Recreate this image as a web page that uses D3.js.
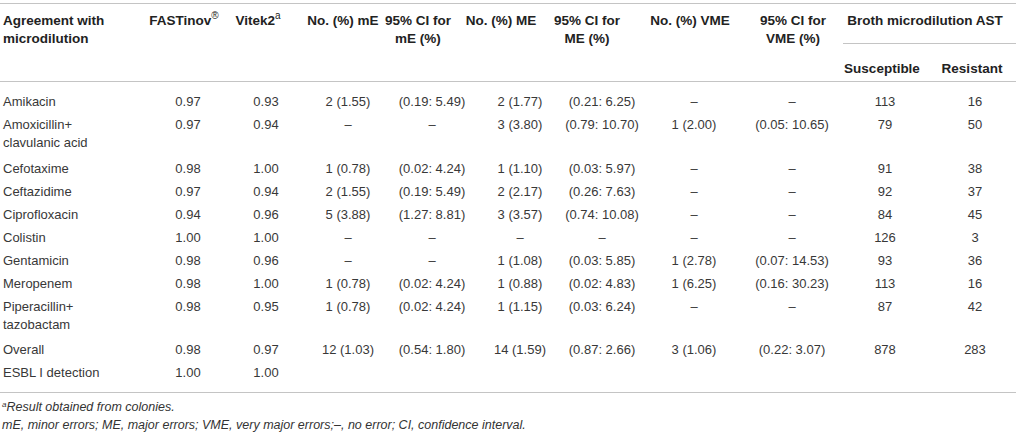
<!DOCTYPE html>
<html>
  <head>
    <meta charset="utf-8">
    <script src="https://cdn.jsdelivr.net/npm/d3@7"></script>
    <style>
      body { margin: 0; background: #fff; }
      text { font-family: "Liberation Sans", Arial, sans-serif; }
      .cell { font-size: 13px; fill: #383838; }
      .head { font-size: 13.5px; font-weight: bold; fill: #222; }
      .rule { stroke: #c4c4c4; stroke-width: 1; }
      .note { font-size: 12.5px; font-style: italic; fill: #333; }
    </style>
  </head>
  <body>
    <script>
      WIDTH = 1016
      HEIGHT = 435

      // table data, one array per column
      var drugs = [["Amikacin"], ["Amoxicillin+", "clavulanic acid"], ["Cefotaxime"], ["Ceftazidime"],
        ["Ciprofloxacin"], ["Colistin"], ["Gentamicin"], ["Meropenem"], ["Piperacillin+", "tazobactam"],
        ["Overall"], ["ESBL I detection"]]
      var fastinov = ["0.97", "0.97", "0.98", "0.97", "0.94", "1.00", "0.98", "0.98", "0.98", "0.98", "1.00"]
      var vitek2 = ["0.93", "0.94", "1.00", "0.94", "0.96", "1.00", "0.96", "1.00", "0.95", "0.97", "1.00"]
      var minorErr = ["2 (1.55)", "–", "1 (0.78)", "2 (1.55)", "5 (3.88)", "–", "–", "1 (0.78)", "1 (0.78)", "12 (1.03)", ""]
      var minorCI = ["(0.19: 5.49)", "–", "(0.02: 4.24)", "(0.19: 5.49)", "(1.27: 8.81)", "–", "–", "(0.02: 4.24)", "(0.02: 4.24)", "(0.54: 1.80)", ""]
      var majorErr = ["2 (1.77)", "3 (3.80)", "1 (1.10)", "2 (2.17)", "3 (3.57)", "–", "1 (1.08)", "1 (0.88)", "1 (1.15)", "14 (1.59)", ""]
      var majorCI = ["(0.21: 6.25)", "(0.79: 10.70)", "(0.03: 5.97)", "(0.26: 7.63)", "(0.74: 10.08)", "–", "(0.03: 5.85)", "(0.02: 4.83)", "(0.03: 6.24)", "(0.87: 2.66)", ""]
      var vmErr = ["–", "1 (2.00)", "–", "–", "–", "–", "1 (2.78)", "1 (6.25)", "–", "3 (1.06)", ""]
      var vmCI = ["–", "(0.05: 10.65)", "–", "–", "–", "–", "(0.07: 14.53)", "(0.16: 30.23)", "–", "(0.22: 3.07)", ""]
      var susceptible = ["113", "79", "91", "92", "84", "126", "93", "113", "87", "878", ""]
      var resistant = ["16", "50", "38", "37", "45", "3", "36", "16", "42", "283", ""]

      // header labels
      var colKeys = ["fast", "vitek", "mE", "mECI", "ME", "MECI", "VME", "VMECI", "sus", "res"]
      var headers = [["FASTinov"], ["Vitek2"], ["No. (%) mE"], ["95% CI for", "mE (%)"], ["No. (%) ME"],
        ["95% CI for", "ME (%)"], ["No. (%) VME"], ["95% CI for", "VME (%)"], ["Susceptible"], ["Resistant"]]
      var headSup = ["®", "a", "", "", "", "", "", "", "", ""]
      var notes = ["Result obtained from colonies.",
        "mE, minor errors; ME, major errors; VME, very major errors;–, no error; CI, confidence interval."]

      var columns = [fastinov, vitek2, minorErr, minorCI, majorErr, majorCI, vmErr, vmCI, susceptible, resistant]

      var svg = d3.select("body").append("svg")
        .attr("width", WIDTH)
        .attr("height", HEIGHT)

      // column centres for values and for headers
      var xData = d3.scaleOrdinal().domain(colKeys)
        .range([188, 266, 348, 432, 520, 602, 694, 792, 885, 975])
      var xHead = d3.scaleOrdinal().domain(colKeys)
        .range([184, 258, 343, 418, 501, 587, 690, 793, 882, 972])

      // row position in "row units": a wrapped label adds a bit less than a row
      var rowPos = []
      var acc = 0
      drugs.forEach(function(d) {
        rowPos.push(acc)
        acc += 1 + (d.length - 1) * (20.5 / 23)
      })
      var y = d3.scaleLinear().domain([0, 1]).range([106, 129])

      // rules
      var rules = [[0, WIDTH, 3], [0, WIDTH, 81], [843, WIDTH, 43], [0, WIDTH, 392]]
      svg.selectAll("line.rule").data(rules).enter()
        .append("line").attr("class", "rule")
        .attr("x1", function(d) { return d[0] })
        .attr("x2", function(d) { return d[1] })
        .attr("y1", function(d) { return d[2] + 0.5 })
        .attr("y2", function(d) { return d[2] + 0.5 })

      // header, first column
      var h0 = svg.append("text").attr("class", "head").attr("x", 3).attr("y", 25)
      h0.append("tspan").text("Agreement with")
      h0.append("tspan").attr("x", 3).attr("dy", 18).text("microdilution")

      // headers of the value columns
      colKeys.forEach(function(k, i) {
        var top = (k === "sus" || k === "res") ? 73 : 25
        var t = svg.append("text").attr("class", "head")
          .attr("x", xHead(k)).attr("y", top).attr("text-anchor", "middle")
        headers[i].forEach(function(line, j) {
          t.append("tspan").attr("x", xHead(k)).attr("dy", j === 0 ? 0 : 18).text(line)
          if (j === 0 && headSup[i]) {
            t.append("tspan").attr("font-size", 10).attr("font-weight", "normal").attr("dy", -6).text(headSup[i])
          }
        })
      })
      svg.append("text").attr("class", "head")
        .attr("x", (xHead("sus") + xHead("res")) / 2 - 2).attr("y", 25)
        .attr("text-anchor", "middle").text("Broth microdilution AST")

      // drug names
      svg.selectAll("text.drug").data(drugs).enter()
        .append("text").attr("class", "cell drug")
        .attr("x", 3)
        .attr("y", function(d, i) { return y(rowPos[i]) })
        .each(function(d) {
          var t = d3.select(this)
          d.forEach(function(line, j) {
            t.append("tspan").attr("x", 3).attr("dy", j === 0 ? 0 : 18).text(line)
          })
        })

      // value cells
      columns.forEach(function(col, c) {
        svg.selectAll("text.c" + c).data(col).enter()
          .append("text").attr("class", "cell c" + c)
          .attr("x", xData(colKeys[c]))
          .attr("y", function(d, i) { return y(rowPos[i]) })
          .attr("text-anchor", "middle")
          .text(function(d) { return d })
      })

      // footnotes
      var n1 = svg.append("text").attr("class", "note").attr("x", 2).attr("y", 411)
      n1.append("tspan").attr("font-size", 8).attr("dy", -4).text("a")
      n1.append("tspan").attr("dy", 4).text(notes[0])
      svg.append("text").attr("class", "note").attr("x", 2).attr("y", 429).text(notes[1])
    </script>
  </body>
</html>
